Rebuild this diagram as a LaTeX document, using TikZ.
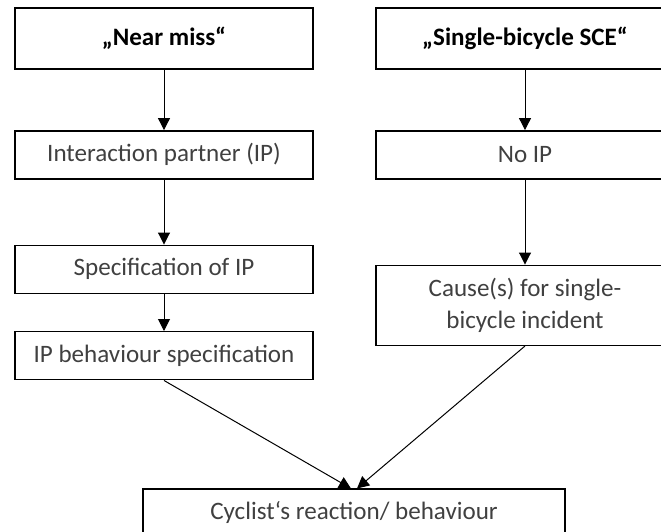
\documentclass[tikz,border=0pt]{standalone}
\usepackage{fontspec}
\setmainfont{Carlito}
\usetikzlibrary{positioning, arrows.meta}

\tikzset{
	box/.style={draw, line width=1.1pt, minimum width=223.5pt, minimum height=36pt, inner sep=2pt, align=center, text=black!75, font=\fontsize{18.8pt}{23.5pt}\selectfont},
	topbox/.style={box, line width=1.6pt, minimum height=45.75pt, text=black, font=\fontsize{18.8pt}{23.5pt}\selectfont\bfseries},
}

\begin{document}
\begin{tikzpicture}[>={Triangle[length=9pt, width=9pt]}, line width=0.75pt]
	\clip (0,0) rectangle (495.75pt,-399pt);

	\node[topbox] (nearmiss) at (123pt,-28.875pt) {„Near miss“};
	\node[topbox] (sce) at (393.75pt,-28.875pt) {„Single-bicycle SCE“};

	\node[box, below=45pt of nearmiss] (ip) {Interaction partner (IP)};
	\node[box, below=48.75pt of ip] (spec) {Specification of IP};
	\node[box, below=27.75pt of spec] (behav) {IP behaviour specification};

	\node[box, below=45pt of sce] (noip) {No IP};
	\node[box, below=63.75pt of noip, minimum height=60pt] (cause) {Cause(s) for single-\\bicycle incident};

	\node[box, below=81pt of behav, xshift=142.5pt, minimum width=316.5pt, minimum height=35.25pt] (cyclist) {Cyclist‘s reaction/ behaviour};

	\path [->]
		(nearmiss) edge (ip)
		(ip) edge (spec)
		(spec) edge (behav)
		(sce) edge (noip)
		(noip) edge (cause)
		(behav.south) edge ([xshift=-2.25pt]cyclist.north)
		(cause.south) edge ([xshift=2.25pt]cyclist.north)
		;
\end{tikzpicture}
\end{document}
